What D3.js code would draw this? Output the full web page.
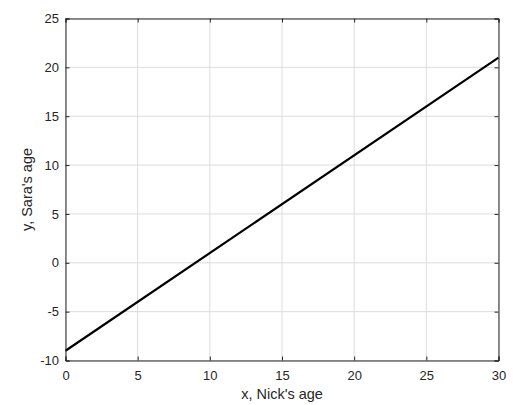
<!DOCTYPE html>
<html><head><meta charset="utf-8">
<script src="https://cdn.jsdelivr.net/npm/d3@7"></script>
<style>body{margin:0;background:#fff}</style>
</head><body>
<svg id="c" width="530" height="405"></svg>
<script>
const xTicks = [0,5,10,15,20,25,30];
const yTicks = [-10,-5,0,5,10,15,20,25];
const lineX = [0,30];
const lineY = [-9,21];
const xLabel = "x, Nick's age";
const yLabel = "y, Sara's age";

const svg = d3.select("#c");
const L=65.5, R=498.5, T=18.5, B=360.5;
const x = d3.scaleLinear().domain([0,30]).range([L,R]);
const y = d3.scaleLinear().domain([-10,25]).range([B,T]);
const font = "Liberation Sans, Arial, sans-serif";
const axc = "#262626";
const fmt = d => String(d);

// grid
svg.append("g").selectAll("line").data(xTicks).join("line")
  .attr("x1",d=>x(d)).attr("x2",d=>x(d)).attr("y1",T).attr("y2",B)
  .attr("stroke","#dcdcdc").attr("stroke-width",1);
svg.append("g").selectAll("line").data(yTicks).join("line")
  .attr("y1",d=>y(d)).attr("y2",d=>y(d)).attr("x1",L).attr("x2",R)
  .attr("stroke","#dcdcdc").attr("stroke-width",1);

// data line
svg.append("path")
  .datum(lineX.map((v,i)=>[v,lineY[i]]))
  .attr("d", d3.line().x(d=>x(d[0])).y(d=>y(d[1])))
  .attr("fill","none").attr("stroke","#000").attr("stroke-width",2.2);

// axes (ticks inward)
const xa = svg.append("g").attr("transform",`translate(0,${B})`)
  .call(d3.axisBottom(x).tickValues(xTicks).tickSize(-4).tickPadding(10).tickFormat(fmt));
const xaTop = svg.append("g").attr("transform",`translate(0,${T})`)
  .call(d3.axisTop(x).tickValues(xTicks).tickSize(-4).tickFormat(""));
const ya = svg.append("g").attr("transform",`translate(${L},0)`)
  .call(d3.axisLeft(y).tickValues(yTicks).tickSize(-4).tickPadding(6.5).tickFormat(fmt));
const yaR = svg.append("g").attr("transform",`translate(${R},0)`)
  .call(d3.axisRight(y).tickValues(yTicks).tickSize(-4).tickFormat(""));
[xa,xaTop,ya,yaR].forEach(g=>{
  g.selectAll("path").attr("stroke",axc).attr("stroke-width",1);
  g.selectAll("line").attr("stroke",axc);
  g.selectAll("text").attr("fill",axc).style("font-family",font).style("font-size","13px");
});

svg.append("text").attr("x",(L+R)/2).attr("y",398.5).attr("text-anchor","middle")
  .attr("fill",axc).style("font-family",font).style("font-size","14.5px").text(xLabel);
svg.append("text").attr("transform",`translate(31.5,${(T+B)/2}) rotate(-90)`).attr("text-anchor","middle")
  .attr("fill",axc).style("font-family",font).style("font-size","14.5px").text(yLabel);
</script>
</body></html>
